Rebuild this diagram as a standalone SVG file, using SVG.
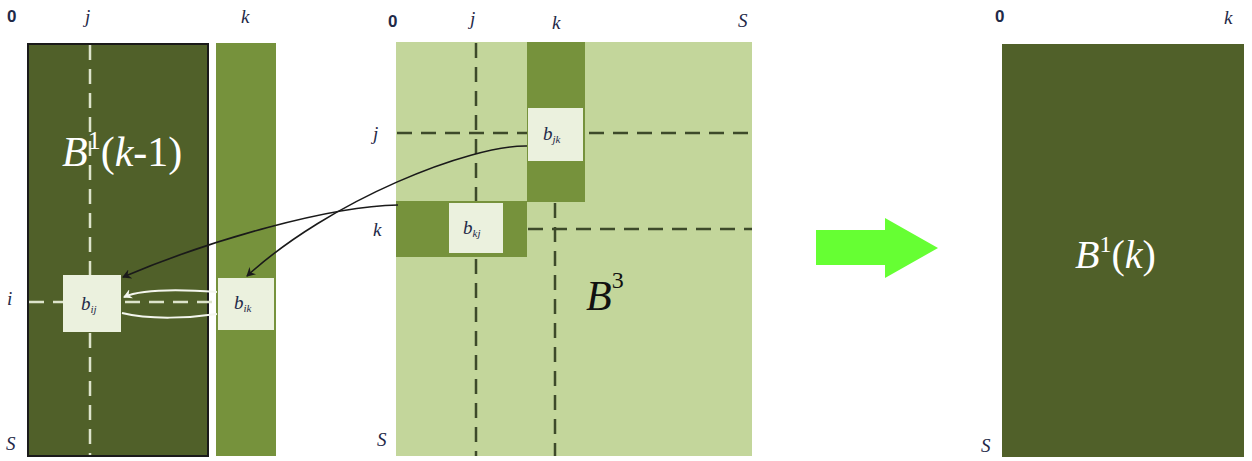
<svg xmlns="http://www.w3.org/2000/svg" width="1252" height="461" viewBox="0 0 1252 461">
  <style>
    .lbl { font-family: "Liberation Serif", serif; font-style: italic; font-size: 19px; fill: #1f2a48; }
    .zero { font-family: "Liberation Sans", sans-serif; font-weight: bold; font-size: 17px; fill: #1f2a48; }
    .cell { fill: #ebf1de; }
    .mid { fill: #76923c; }
    .dark { fill: #506029; }
    .light { fill: #c3d69b; }
    .big { font-family: "Liberation Serif", serif; fill: #ffffff; }
    .cl { font-family: "Liberation Serif", serif; font-style: italic; font-size: 19px; fill: #1f2a48; }
    .dashL { stroke: #dde4cc; stroke-width: 2.5; stroke-dasharray: 15 9; fill: none; }
    .dashD { stroke: #3d4a2a; stroke-width: 2.5; stroke-dasharray: 15 9; fill: none; }
    .arr { stroke: #1a1a1a; stroke-width: 1.6; fill: none; }
    .warr { stroke: #f4f6ee; stroke-width: 2; fill: none; }
  </style>
  <defs>
    <marker id="ah" markerWidth="10" markerHeight="10" refX="8" refY="5" orient="auto" markerUnits="userSpaceOnUse">
      <path d="M0,0 L9,5 L0,10 L3,5 Z" fill="#1a1a1a"/>
    </marker>
    <marker id="wh" markerWidth="10" markerHeight="10" refX="8" refY="5" orient="auto" markerUnits="userSpaceOnUse">
      <path d="M0,0 L9,5 L0,10 L3,5 Z" fill="#f4f6ee"/>
    </marker>
  </defs>

  <rect width="1252" height="461" fill="#ffffff"/>

  <!-- Left: B1(k-1) block with column k -->
  <g id="left-block">
    <rect class="dark" x="28" y="44" width="180" height="412" stroke="#1a1a1a" stroke-width="2"/>
    <line class="dashL" x1="90" y1="45" x2="90" y2="455"/>
    <line class="dashL" x1="29" y1="302" x2="216" y2="302"/>
    <text class="big" x="62" y="166" font-size="42"><tspan font-style="italic">B</tspan><tspan font-size="26" dy="-17">1</tspan><tspan dy="17">(</tspan><tspan font-style="italic">k</tspan><tspan>-1)</tspan></text>
    <text class="zero" x="7" y="22">0</text>
    <text class="lbl" x="85" y="23">j</text>
    <text class="lbl" x="7" y="305">i</text>
    <text class="lbl" x="6" y="450">S</text>
  </g>

  <g id="left-column-k">
    <rect class="mid" x="216" y="43" width="60" height="413"/>
    <text class="lbl" x="241" y="23">k</text>
  </g>

  <g id="cell-bij">
    <rect class="cell" x="63" y="275" width="58" height="57"/>
    <text class="cl" x="81" y="310">b<tspan font-size="11" dy="3">ij</tspan></text>
  </g>

  <g id="cell-bik">
    <rect class="cell" x="218" y="278" width="56" height="52"/>
    <text class="cl" x="234" y="309">b<tspan font-size="11" dy="3">ik</tspan></text>
  </g>

  <!-- Middle: B3 block -->
  <g id="mid-block">
    <rect class="light" x="396" y="42" width="356" height="414"/>
    <line class="dashD" x1="476" y1="43" x2="476" y2="456"/>
    <line class="dashD" x1="397" y1="133" x2="752" y2="133"/>
    <rect class="mid" x="527" y="42" width="58" height="160"/>
    <rect class="mid" x="396" y="201" width="131" height="56"/>
    <line class="dashD" x1="555" y1="203" x2="555" y2="456"/>
    <line class="dashD" x1="528" y1="229" x2="752" y2="229"/>
    <text x="586" y="310" font-family="Liberation Serif, serif" font-style="italic" font-size="42" fill="#111">B<tspan font-style="normal" font-size="24" dy="-22">3</tspan></text>
    <text class="zero" x="388" y="27">0</text>
    <text class="lbl" x="470" y="25">j</text>
    <text class="lbl" x="552" y="29">k</text>
    <text class="lbl" x="738" y="27">S</text>
    <text class="lbl" x="373" y="140">j</text>
    <text class="lbl" x="373" y="236">k</text>
    <text class="lbl" x="377" y="446">S</text>
  </g>

  <g id="cell-bjk">
    <rect class="cell" x="528" y="108" width="55" height="53"/>
    <text class="cl" x="543" y="140">b<tspan font-size="11" dy="3">jk</tspan></text>
  </g>

  <g id="cell-bkj">
    <rect class="cell" x="449" y="203" width="54" height="50"/>
    <text class="cl" x="463" y="234">b<tspan font-size="11" dy="3">kj</tspan></text>
  </g>

  <!-- Transition arrow -->
  <g id="step-arrow">
    <path d="M816,230 L885,230 L885,218 L938,248 L885,278 L885,265 L816,265 Z" fill="#66ff33"/>
  </g>

  <!-- Right: B1(k) block -->
  <g id="right-block">
    <rect class="dark" x="1002" y="44" width="242" height="413"/>
    <text class="big" x="1075" y="268" font-size="40"><tspan font-style="italic">B</tspan><tspan font-size="24" dy="-16">1</tspan><tspan dy="16">(</tspan><tspan font-style="italic">k</tspan><tspan>)</tspan></text>
    <text class="zero" x="995" y="22">0</text>
    <text class="lbl" x="1224" y="24">k</text>
    <text class="lbl" x="981" y="452">S</text>
  </g>

  <!-- Connectors -->
  <g id="connectors">
    <path class="arr" d="M527,146 C470,145 330,200 247,276" marker-end="url(#ah)"/>
    <path class="arr" d="M398,205 C330,206 210,240 123,277" marker-end="url(#ah)"/>
    <path class="warr" d="M217,292 C175,289 140,290 124,297" marker-end="url(#wh)"/>
    <path class="warr" d="M122,313 C150,320 190,318 217,314"/>
  </g>
</svg>
